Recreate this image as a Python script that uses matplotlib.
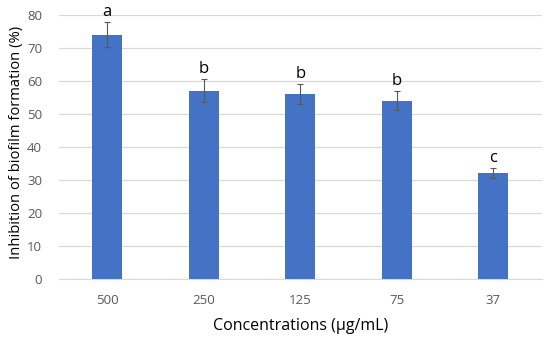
import matplotlib
matplotlib.use('Agg')
from matplotlib import pyplot as plt

concentrations = ['500', '250', '125', '75', '37']
inhibition = [74, 57, 56, 54, 32]
errors = [3.7, 3.5, 3.0, 2.8, 1.5]
letters = ['a', 'b', 'b', 'b', 'c']

plt.rcParams['font.family'] = ['Open Sans', 'DejaVu Sans']

fig = plt.figure(figsize=(5.5, 3.38), dpi=100)
ax = fig.add_axes([0.107, 0.175, 0.878, 0.781])

x = range(len(concentrations))
ax.bar(x, inhibition, width=0.31, color='#4472C4', zorder=3)
ax.errorbar(x, inhibition, yerr=errors, fmt='none', ecolor='#595959',
            elinewidth=0.8, capsize=2.5, capthick=0.8, zorder=4)

for i, (v, e, l) in enumerate(zip(inhibition, errors, letters)):
    ax.text(i, v + e + 0.8, l, ha='center', va='bottom', fontsize=12, color='black')

ax.set_xlim(-0.5, len(concentrations) - 0.5)
ax.set_ylim(0, 80)
ax.set_yticks(range(0, 81, 10))
ax.set_xticks(list(x))
ax.set_xticklabels(concentrations)
ax.yaxis.grid(True, color='#d9d9d9', linewidth=0.9, zorder=0)
ax.set_axisbelow(True)

for s in ['top', 'right', 'left']:
    ax.spines[s].set_visible(False)
ax.spines['bottom'].set_color('#d9d9d9')
ax.tick_params(axis='both', length=0, labelsize=9.5, labelcolor='#595959', pad=11)
ax.tick_params(axis='y', pad=12)

ax.set_xlabel('Concentrations (µg/mL)', fontsize=11.5, labelpad=8)
ax.set_ylabel('Inhibition of biofilm formation (%)', fontsize=10.6)
ax.yaxis.set_label_coords(-0.072, 0.515)

fig.savefig('out.png', dpi=100)
plt.close()
